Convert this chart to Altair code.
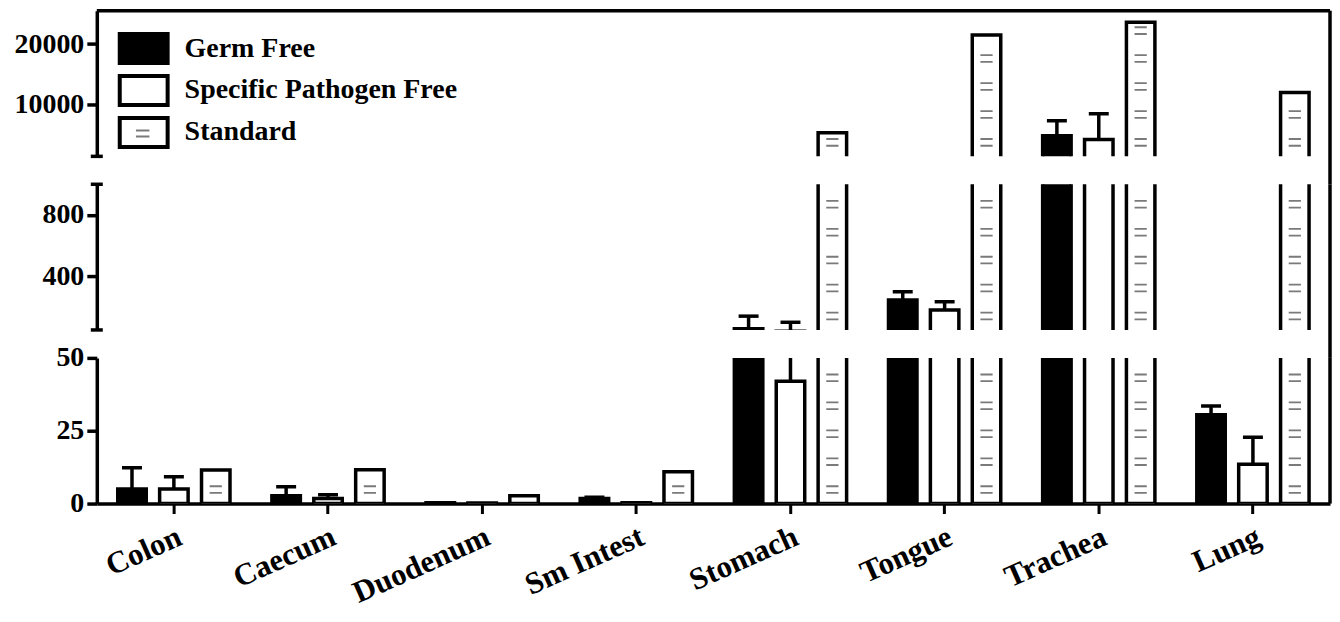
import altair as alt
import pandas as pd

# ---------------- data ----------------
categories = ["Colon", "Caecum", "Duodenum", "Sm Intest", "Stomach", "Tongue", "Trachea", "Lung"]
groups = ["Germ Free", "Specific Pathogen Free", "Standard"]

germ_free = [5.0, 2.7, 0.3, 1.7, 58, 245, 4900, 30.5]
germ_free_sd = [7.3, 3.1, 0.0, 0.5, 82, 54, 2480, 3.0]
spf = [5.0, 1.7, 0.2, 0.3, 42, 180, 4260, 13.5]
spf_sd = [4.2, 1.3, 0.0, 0.0, 58, 54, 4260, 9.3]
standard = [11.5, 11.6, 2.7, 10.9, 5400, 21500, 23600, 12000]

# broken y-axis segments: (domain low, domain high, tick values), top to bottom
segments = [
    (1500, 25500, [10000, 20000]),
    (50, 1000, [400, 800]),
    (0, 50, [0, 25, 50]),
]

rows = []
for i, c in enumerate(categories):
    for g, vals, sds in ((groups[0], germ_free, germ_free_sd),
                         (groups[1], spf, spf_sd),
                         (groups[2], standard, None)):
        v = vals[i]
        s = sds[i] if sds is not None else 0.0
        rows.append({"tissue": c, "group": g, "value": v, "upper": v + s})
df = pd.DataFrame(rows)
err_df = df[df["upper"] > df["value"]].reset_index(drop=True)

# keys of the (label-less) pattern legend drawn over the main legend
hatch_keys = ["gf_pattern", "spf_pattern", "std_pattern"]

FONT = "Liberation Serif"
W = 1236
H = 146
GAP = 28
SW = 3.5


def hatch_df(lo, hi):
    """Horizontal dash pattern inside the 'Standard' bars (every ~28 px)."""
    step = (hi - lo) * 28.0 / H
    out = []
    for r in df[df["group"] == "Standard"].itertuples():
        k = 0
        top = min(r.value, hi)
        while True:
            pos = lo + (k + 0.5) * step
            if pos > top - step * 0.25:
                break
            out.append({"tissue": r.tissue, "group": r.group, "g2": hatch_keys[2], "pos": pos})
            k += 1
    return pd.DataFrame(out)


one = pd.DataFrame({"a": [0]})


def panel(idx):
    lo, hi, ticks = segments[idx]
    is_top = idx == 0
    is_bottom = idx == len(segments) - 1

    yscale = alt.Scale(domain=[lo, hi], nice=False, zero=False)
    yaxis = alt.Axis(values=ticks, title=None, grid=False, format="d",
                     domainWidth=SW, tickWidth=SW, tickSize=10,
                     labelFont=FONT, labelFontWeight="bold", labelFontSize=28,
                     labelPadding=3, minExtent=89, maxExtent=89,
                     labelColor="black", domainColor="black", tickColor="black")
    xaxis = alt.Axis(title=None, labelAngle=-24, labelAlign="right", labelBaseline="top",
                     labelFont=FONT, labelFontWeight="bold", labelFontSize=31,
                     labelColor="black", labelPadding=8, tickSize=10, tickWidth=3,
                     domainWidth=SW, domainColor="black", tickColor="black")

    xenc = alt.X("tissue:N", sort=categories,
                 scale=alt.Scale(domain=categories, paddingInner=0, paddingOuter=0),
                 axis=xaxis if is_bottom else None)
    xoff = alt.XOffset("group:N", sort=groups,
                       scale=alt.Scale(domain=groups, paddingInner=0.32, paddingOuter=0.5))

    legend_fill = alt.Legend(title=None, orient="none", legendX=30, legendY=21,
                             symbolType="M-1.6,-0.97H1.6V0.97H-1.6Z", symbolSize=900,
                             symbolStrokeColor="black", symbolStrokeWidth=4,
                             labelFont=FONT, labelFontWeight="bold", labelFontSize=28,
                             labelColor="black", labelOffset=24, rowPadding=-4,
                             padding=0, labelLimit=500)
    legend_hatch = alt.Legend(title=None, orient="none", legendX=30, legendY=21,
                              symbolType="M-0.45,-0.2H0.45M-0.45,0.2H0.45", symbolSize=900,
                              symbolStrokeWidth=2, symbolFillColor="transparent",
                              labelExpr="''", labelFont=FONT, labelFontSize=26,
                              labelOffset=24, rowPadding=14, padding=0)

    bars = alt.Chart(df).mark_bar(stroke="black", strokeWidth=SW, clip=True).encode(
        x=xenc, xOffset=xoff,
        y=alt.Y("value:Q", scale=yscale, axis=yaxis),
        y2=alt.datum(0),
        fill=alt.Fill("group:N", sort=groups,
                      scale=alt.Scale(domain=groups, range=["black", "white", "white"]),
                      legend=legend_fill if is_top else None),
    )

    hatch = alt.Chart(hatch_df(lo, hi)).mark_point(
        shape="M-1,-0.55H1M-1,0.55H1", size=150, filled=False, strokeWidth=1.8,
        opacity=1, clip=True).encode(
        x=xenc, xOffset=xoff,
        y=alt.Y("pos:Q", scale=yscale),
        stroke=alt.Stroke("g2:N", sort=hatch_keys,
                          scale=alt.Scale(domain=hatch_keys,
                                          range=["transparent", "transparent", "#7a7a7a"]),
                          legend=legend_hatch if is_top else None),
    )

    err = alt.Chart(err_df).mark_rule(color="black", strokeWidth=SW, clip=True).encode(
        x=xenc, xOffset=xoff,
        y=alt.Y("value:Q", scale=yscale),
        y2="upper:Q",
    )
    caps = alt.Chart(err_df).mark_point(shape="M-1,0H1", size=400, filled=False,
                                        color="black", strokeWidth=SW, opacity=1,
                                        clip=True).encode(
        x=xenc, xOffset=xoff,
        y=alt.Y("upper:Q", scale=yscale),
    )

    layers = [bars, hatch, err, caps]

    # frame and axis-break caps
    if is_top:
        layers.append(alt.Chart(one).mark_rule(color="black", strokeWidth=SW).encode(
            x=alt.value(0), x2=alt.value(W), y=alt.value(0)))
    layers.append(alt.Chart(one).mark_rule(color="black", strokeWidth=SW).encode(
        x=alt.value(W), y=alt.value(0), y2=alt.value(H if is_bottom else H + GAP)))
    if not is_bottom:
        layers.append(alt.Chart(one).mark_rule(color="black", strokeWidth=SW).encode(
            x=alt.value(-6), x2=alt.value(6), y=alt.value(H)))
    if not is_top and not is_bottom:
        layers.append(alt.Chart(one).mark_rule(color="black", strokeWidth=SW).encode(
            x=alt.value(-6), x2=alt.value(6), y=alt.value(0)))

    return alt.layer(*layers).properties(width=W, height=H)


chart = alt.vconcat(panel(0), panel(1), panel(2), spacing=GAP, bounds="flush").resolve_scale(
    x="independent", y="independent", fill="independent", stroke="independent"
).resolve_legend(fill="independent", stroke="independent").properties(
    padding=0, background="white"
).configure_view(stroke=None)

chart.save("out.html", embed_options={"renderer": "svg", "actions": False})
